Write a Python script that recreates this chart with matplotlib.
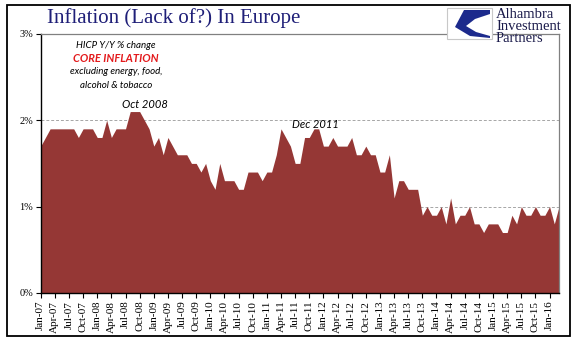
import numpy as np
import matplotlib
matplotlib.use("Agg")
import matplotlib.pyplot as plt
from matplotlib.patches import Rectangle, Polygon

# ---- data (Y/Y % change, monthly Jan-07 .. Mar-16) ----
core_2007 = [1.7, 1.8, 1.9, 1.9, 1.9, 1.9, 1.9, 1.9, 1.8, 1.9, 1.9, 1.9]
core_2008 = [1.8, 1.8, 2.0, 1.8, 1.9, 1.9, 1.9, 2.1, 2.1, 2.1, 2.0, 1.9]
core_2009 = [1.7, 1.8, 1.6, 1.8, 1.7, 1.6, 1.6, 1.6, 1.5, 1.5, 1.4, 1.5]
core_2010 = [1.3, 1.2, 1.5, 1.3, 1.3, 1.3, 1.2, 1.2, 1.4, 1.4, 1.4, 1.3]
core_2011 = [1.4, 1.4, 1.6, 1.9, 1.8, 1.7, 1.5, 1.5, 1.8, 1.8, 1.9, 1.9]
core_2012 = [1.7, 1.7, 1.8, 1.7, 1.7, 1.7, 1.8, 1.6, 1.6, 1.7, 1.6, 1.6]
core_2013 = [1.4, 1.4, 1.6, 1.1, 1.3, 1.3, 1.2, 1.2, 1.2, 0.9, 1.0, 0.9]
core_2014 = [0.9, 1.0, 0.8, 1.1, 0.8, 0.9, 0.9, 1.0, 0.8, 0.8, 0.7, 0.8]
core_2015 = [0.8, 0.8, 0.7, 0.7, 0.9, 0.8, 1.0, 0.9, 0.9, 1.0, 0.9, 0.9]
core_2016 = [1.0, 0.8, 1.0]

core_inflation = (core_2007 + core_2008 + core_2009 + core_2010 + core_2011 +
                  core_2012 + core_2013 + core_2014 + core_2015 + core_2016)

tick_labels = ["Jan-07", "Apr-07", "Jul-07", "Oct-07", "Jan-08", "Apr-08", "Jul-08", "Oct-08",
               "Jan-09", "Apr-09", "Jul-09", "Oct-09", "Jan-10", "Apr-10", "Jul-10", "Oct-10",
               "Jan-11", "Apr-11", "Jul-11", "Oct-11", "Jan-12", "Apr-12", "Jul-12", "Oct-12",
               "Jan-13", "Apr-13", "Jul-13", "Oct-13", "Jan-14", "Apr-14", "Jul-14", "Oct-14",
               "Jan-15", "Apr-15", "Jul-15", "Oct-15", "Jan-16"]
y_ticks = [0, 1, 2, 3]
y_tick_labels = ["0%", "1%", "2%", "3%"]

W, H = 577, 341
fig = plt.figure(figsize=(W / 100, H / 100), dpi=100)
fig.patch.set_facecolor("white")

def fx(px):
    return px / W

def fy(py):
    return 1 - py / H

ax = fig.add_axes([fx(40.7), fy(293), (559 - 40.7) / W, (293 - 33.8) / H])
x = np.arange(len(core_inflation))
ax.fill_between(x, core_inflation, 0, color="#953735", linewidth=0, zorder=2)
ax.set_xlim(0, len(core_inflation) - 1)
ax.set_ylim(0, 3)

for g in [1, 2]:
    ax.axhline(g, color="#a6a6a6", lw=0.7, ls=(0, (3, 2)), zorder=1)

ax.set_yticks(y_ticks)
ax.set_yticklabels(y_tick_labels, family="Liberation Serif", fontsize=7.5)
ax.set_xticks(np.arange(0, len(core_inflation), 3)[:len(tick_labels)])
ax.set_xticklabels(tick_labels, rotation=90, family="Liberation Serif", fontsize=8)
ax.tick_params(axis="both", direction="out", length=3.5, width=0.8, color="black", pad=2)

for s in ["left", "bottom"]:
    ax.spines[s].set_color("black")
    ax.spines[s].set_linewidth(1.0)
for s in ["top", "right"]:
    ax.spines[s].set_color("#808080")
    ax.spines[s].set_linewidth(0.9)

# outer border
fig.add_artist(Rectangle((fx(7), fy(336)), (570 - 7) / W, (336 - 5) / H,
                         transform=fig.transFigure, fill=False, ec="black", lw=1.3))

# title
fig.text(fx(47), fy(18), "Inflation (Lack of?) In Europe", family="Liberation Serif",
         fontsize=15, color="#1f1f78", ha="left", va="center")

# logo
fig.add_artist(Rectangle((fx(447), fy(39)), 45 / W, 31 / H, transform=fig.transFigure,
                         fc="white", ec="#c8c8c8", lw=0.8, zorder=5))
logo_pts = [(464, 10), (490, 10), (490, 14), (475, 19), (466, 26), (476, 32), (490, 36),
            (490, 38), (470, 36), (455, 27)]
fig.add_artist(Polygon([(fx(a), fy(b)) for a, b in logo_pts], closed=True,
                       transform=fig.transFigure, fc="#1c2a8c", ec="none", zorder=6))
for txt, py in [("Alhambra", 14), ("Investment", 26), ("Partners", 38)]:
    fig.text(fx(496), fy(py), txt, family="Liberation Serif", fontsize=10.5,
             color="#1a1a4a", ha="left", va="center")

# annotations
fig.text(fx(116), fy(46), "HICP Y/Y % change", family="Lato", style="italic",
         fontsize=7, color="black", ha="center", va="center")
fig.text(fx(116), fy(58), "CORE INFLATION", family="Lato", style="italic", weight="bold",
         fontsize=8, color="#e31a1c", ha="center", va="center")
fig.text(fx(116), fy(72), "excluding energy, food,", family="Lato", style="italic",
         fontsize=7, color="black", ha="center", va="center")
fig.text(fx(116), fy(85), "alcohol & tobacco", family="Lato", style="italic",
         fontsize=7, color="black", ha="center", va="center")
fig.text(fx(145), fy(105), "Oct 2008", family="Lato", style="italic",
         fontsize=8, color="black", ha="center", va="center")
fig.text(fx(315), fy(124), "Dec 2011", family="Lato", style="italic",
         fontsize=8, color="black", ha="center", va="center")

fig.savefig("out.png", dpi=100)
